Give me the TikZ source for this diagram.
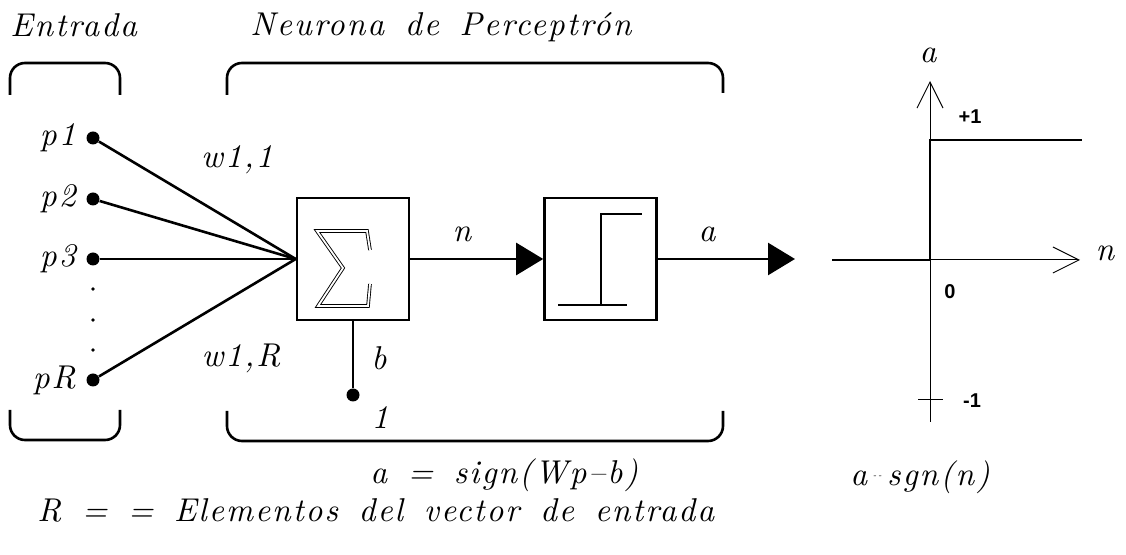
\documentclass[tikz,border=0pt]{standalone}
\usepackage{fontspec}
\setmainfont{lmroman10}[Extension=.otf, UprightFont=*-regular, ItalicFont=*-italic,
  BoldFont=*-bold, BoldItalicFont=*-bolditalic, LetterSpace=6, WordSpace=1.5]
\newfontfamily\valfont{Liberation Sans}
\usetikzlibrary{positioning,arrows.meta}

\begin{document}
\begin{tikzpicture}[
  x=0.5pt, y=-0.5pt,
  txt/.style={font=\fontsize{16.5}{19}\selectfont\itshape, inner sep=0pt},
  val/.style={font=\valfont\bfseries\fontsize{10}{12}\selectfont, inner sep=0pt},
  dot/.style={circle, fill, inner sep=0pt, minimum size=6.5pt},
  pnt/.style={circle, fill, inner sep=0pt, minimum size=1.8pt},
  blk/.style={draw, line width=1.3pt, minimum width=56pt, minimum height=61pt, inner sep=0pt},
  wire/.style={line width=1.3pt},
  arr/.style={wire, -{Triangle[length=13.5pt, width=16pt]}},
  brk/.style={line width=1.3pt, rounded corners=7.5pt},
  axis/.style={line width=0.5pt, -{Straight Barb[length=13pt, width=13pt]}}
]
\useasboundingbox (0,0) rectangle (1126,555);

% titulos y llaves
\node[txt, anchor=west] (tin) at (10,25) {Entrada};
\node[txt, anchor=west] (tneu) at (250,27) {Neurona de Perceptrón};
\draw[brk] (10,95) -- (10,63) -- (120,63) -- (120,95);
\draw[brk] (10,410) -- (10,440) -- (120,440) -- (120,410);
\draw[brk] (227,95) -- (227,63) -- (723,63) -- (723,93);
\draw[brk] (227,411) -- (227,441) -- (723,441) -- (723,411);

% entradas
\node[dot] (p1) at (93,138) {};
\node[dot] (p2) at (93,199) {};
\node[dot] (p3) at (93,259) {};
\node[dot] (pR) at (93,380) {};
\node[pnt] (d1) at (93,289) {};
\node[pnt] (d2) at (93,320) {};
\node[pnt] (d3) at (93,350) {};
\node[txt, left=5pt of p1] (lp1) {p1};
\node[txt, left=5pt of p2] (lp2) {p2};
\node[txt, left=5pt of p3] (lp3) {p3};
\node[txt, left=5pt of pR] (lpR) {pR};

% bloques
\node[blk] (sum) at (353,259) {};
\node[blk] (act) at (600.5,259) {};
\draw[double, double distance=0.9pt, line width=0.45pt]
  (370,250) -- (367,231) -- (317,231) -- (343,268) -- (318,306) -- (368,306) -- (370,284);
\draw[line width=0.9pt] (558,305) -- (627,305) (601,305) -- (601,214) -- (642,214);

\draw[wire] (p1) -- (sum.west);
\draw[wire] (p2) -- (sum.west);
\draw[wire] (p3) -- (sum.west);
\draw[wire] (pR) -- (sum.west);
\node[txt] (w11) at (237,160) {w1,1};
\node[txt] (w1R) at (241,358) {w1,R};

\node[dot] (one) at (353,395) {};
\draw[wire] (sum.south) -- (one);
\node[txt] (lb) at (379,358) {b};
\node[txt] (l1) at (380,418) {1};

\draw[arr] (sum.east) -- (act.west);
\node[txt] (ln) at (462,234) {n};
\coordinate (out) at (795,259);
\draw[arr] (act.east) -- (out);
\node[txt] (la) at (707,234) {a};

% grafica
\coordinate (o) at (930,260);
\coordinate (xbeg) at (832,260);
\coordinate (xend) at (1080,260);
\coordinate (ybot) at (930,422);
\coordinate (ytop) at (930,81);
\draw[axis] (o) -- (xend);
\draw[axis] (ybot) -- (ytop);
\draw[line width=1.4pt] (xbeg) -- (o) -- (930,140) -- (1082,140);
\draw[line width=0.5pt] (918,400) -- (943,400);
\node[val] (vp1) at (970,117) {+1};
\node[val] (v0) at (950,292) {0};
\node[val] (vm1) at (972,401) {-1};
\node[txt] (ga) at (928,55) {a};
\node[txt] (gn) at (1105,253) {n};

% formulas
\node[txt, anchor=west] (f1) at (370,475) {a = sign(Wp--b)};
\node[txt, anchor=west] (f2) at (850,477) {a\,\raisebox{0.45ex}{\tiny-\,-}\,sgn(n)};
\node[txt, anchor=west] (f3) at (37,510) {R = = Elementos del vector de entrada};
\end{tikzpicture}
\end{document}
